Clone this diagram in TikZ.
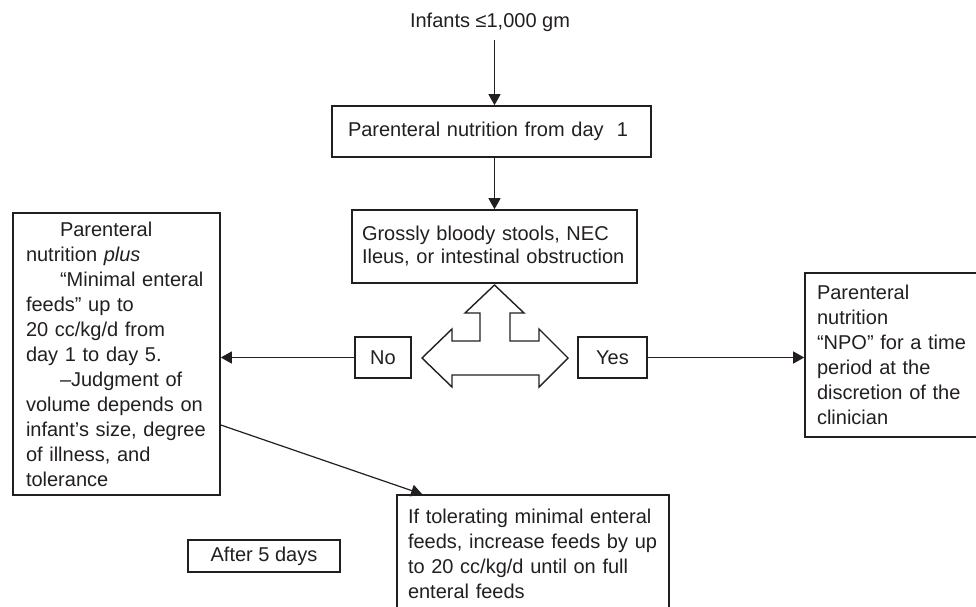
\documentclass[tikz,border=0pt]{standalone}
\usepackage{fontspec}
\setmainfont{Liberation Sans}
\usetikzlibrary{arrows.meta,calc}
\definecolor{ink}{RGB}{35,31,32}
\tikzset{
  box/.style={draw=ink,line width=1.6pt,rectangle,inner ysep=0pt,text=ink,
    font={\fontsize{20}{25}\selectfont}},
  lbox/.style={box,align=left},
  arr/.style={draw=ink,line width=1.2pt,-{Triangle[length=11pt,width=12pt]}},
  bigarrow/.style={draw=ink,fill=white,line width=1.4pt,line join=miter}
}
\newcommand{\ind}{\hspace*{34pt}}
\begin{document}
\begin{tikzpicture}[x=1pt,y=-1pt]
\useasboundingbox (0,0) rectangle (976,606);
\clip (0,0) rectangle (976,606);
\fill[white] (0,0) rectangle (976,606);

% top label
\node[text=ink,font={\fontsize{20}{25}\selectfont},inner sep=0pt] (top) at (490,22) {Infants ≤1,000 gm};

% boxes
\node[lbox,text width=287pt,inner xsep=16pt,minimum width=319pt,minimum height=51pt] (P) at (491.5,131.5)
  {Parenteral nutrition from day\ \ 1};

\node[lbox,font={\fontsize{20}{23}\selectfont},text width=265pt,inner xsep=10pt,
  minimum width=285pt,minimum height=73pt] (G) at (494.5,246.5)
  {Grossly bloody stools, NEC\\Ileus, or intestinal obstruction};

\node[lbox,text width=181pt,inner xsep=13pt,minimum width=207pt,minimum height=282pt] (L) at (116.5,354)
  {\ind Parenteral\\
   nutrition \textit{plus}\\
   \ind “Minimal enteral\\
   feeds” up to\\
   20 cc/kg/d from\\
   day 1 to day 5.\\
   \ind –Judgment of\\
   volume depends on\\
   infant’s size, degree\\
   of illness, and\\
   tolerance};

\node[lbox,text width=166pt,inner xsep=12pt,minimum width=190pt,minimum height=164pt] (R) at (900,355)
  {Parenteral\\
   nutrition\\
   “NPO” for a time\\
   period at the\\
   discretion of the\\
   clinician};

\node[lbox,text width=250pt,inner xsep=11pt,minimum width=272pt,minimum height=118.4pt] (B) at (533,554.2)
  {\mbox{If tolerating minimal enteral}\\
   \mbox{feeds, increase feeds by up}\\
   \mbox{to 20 cc/kg/d until on full}\\
   \mbox{enteral feeds}};

\node[box,minimum width=152pt,minimum height=32pt] (A) at (264,556) {After 5 days};

\node[box,minimum width=56pt,minimum height=41pt] (No) at (383,357.5) {No};
\node[box,minimum width=69pt,minimum height=41pt] (Yes) at (612.5,357.5) {Yes};

% three-way arrow
\draw[bigarrow] (494.5,285) -- (524,313) -- (510,313) -- (510,341) -- (539,341) -- (539,329)
  -- (568,358) -- (539,387) -- (539,375) -- (452,375) -- (452,387) -- (422,358)
  -- (452,329) -- (452,341) -- (480,341) -- (480,313) -- (465,313) -- cycle;

% connectors
\coordinate (t1) at (494.5,40);
\draw[arr] (t1) -- (t1 |- P.north);
\draw[arr] (G.north |- P.south) -- (G.north);
\draw[arr] (No.west) -- (No.west -| L.east);
\draw[arr] (Yes.east) -- (Yes.east -| R.west);
\coordinate (d1) at ([yshift=-71pt]L.east);
\coordinate (d2) at ([xshift=26pt]B.north west);
\draw[arr] (d1) -- (d2);
\end{tikzpicture}
\end{document}
